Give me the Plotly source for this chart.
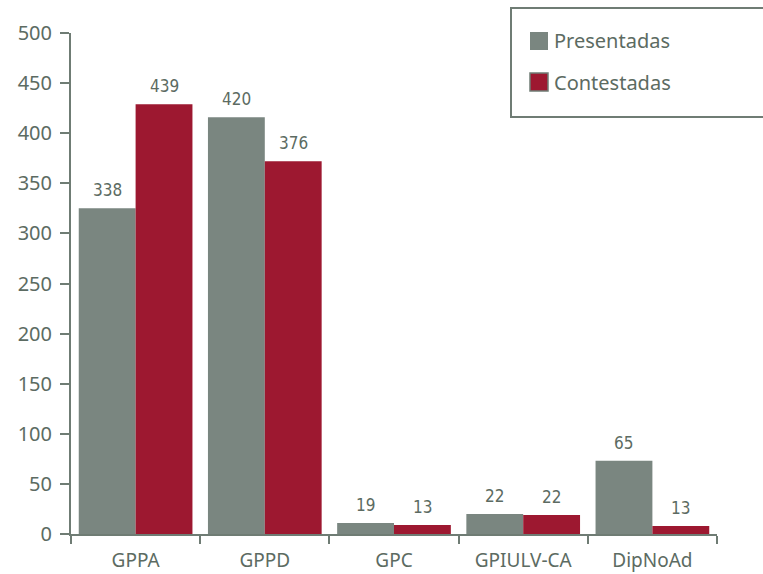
import plotly.graph_objects as go

categories = ["GPPA", "GPPD", "GPC", "GPIULV-CA", "DipNoAd"]
# bar heights as drawn in the picture
presentadas = [325, 416, 11, 20, 73]
contestadas = [429, 372, 9, 19, 8]
# numbers printed above the bars
presentadas_labels = ["338", "420", "19", "22", "65"]
contestadas_labels = ["439", "376", "13", "22", "13"]
series_names = ["Presentadas", "Contestadas"]
y_ticks = [0, 50, 100, 150, 200, 250, 300, 350, 400, 450, 500]

GRAY = "#7a8680"
RED = "#9d1830"
TEXT = "#5c6b62"
AXIS = "#6f7c74"

L, T, W, H = 71, 33, 646, 501


def px(x):
    return (x - L) / W


def py(y):
    return (T + H - y) / H


fig = go.Figure()
fig.add_trace(go.Bar(name=series_names[0], x=categories, y=presentadas, marker_color=GRAY,
                     marker_line_width=0))
fig.add_trace(go.Bar(name=series_names[1], x=categories, y=contestadas, marker_color=RED,
                     marker_line_width=0))

label_font = dict(family="DejaVu Sans Condensed, sans-serif", size=17, color=TEXT)
for i, c in enumerate(categories):
    fig.add_annotation(x=i, y=presentadas[i], xshift=-28.5, yshift=18, text=presentadas_labels[i],
                       showarrow=False, font=label_font, xref="x", yref="y")
    fig.add_annotation(x=i, y=contestadas[i], xshift=28.5, yshift=18, text=contestadas_labels[i],
                       showarrow=False, font=label_font, xref="x", yref="y")

# legend box (drawn manually to match the reference)
fig.add_shape(type="rect", xref="paper", yref="paper",
              x0=px(511), x1=px(775), y0=py(117), y1=py(8),
              line=dict(color=AXIS, width=2), fillcolor="white", layer="above")
for k, (name, col) in enumerate(zip(series_names, [GRAY, RED])):
    cy = 41 + 41 * k
    fig.add_shape(type="rect", xref="paper", yref="paper",
                  x0=px(530), x1=px(548), y0=py(cy + 9), y1=py(cy - 9),
                  line=dict(color=AXIS if k == 1 else col, width=1.5 if k == 1 else 0),
                  fillcolor=col, layer="above")
    fig.add_annotation(xref="paper", yref="paper", x=px(552), y=py(cy), xanchor="left",
                       yanchor="middle", text=name, showarrow=False,
                       font=dict(size=20, color=TEXT))

fig.update_layout(
    width=763, height=574,
    margin=dict(l=L, r=763 - L - W, t=T, b=574 - T - H, autoexpand=False),
    paper_bgcolor="white", plot_bgcolor="white",
    barmode="group", bargap=0.12, bargroupgap=0,
    font=dict(family="Noto Sans, Open Sans, sans-serif", color=TEXT),
    showlegend=False,
    xaxis=dict(showline=True, linecolor=AXIS, linewidth=2, ticks="outside", tickson="boundaries",
               ticklen=8, tickcolor=AXIS, tickwidth=2, showgrid=False, ticklabelstandoff=8,
               tickangle=0, tickfont=dict(size=19, color=TEXT), range=[-0.5, 4.5]),
    yaxis=dict(range=[0, 500], tickvals=y_ticks, showline=True, linecolor=AXIS, linewidth=2,
               ticks="outside", ticklen=9, tickcolor=AXIS, tickwidth=2, showgrid=False,
               zeroline=False, ticklabelstandoff=4, tickfont=dict(size=20, color=TEXT)),
)
fig.write_html("out.html", config={"displayModeBar": False},
               post_script="document.body.style.margin='0';")
